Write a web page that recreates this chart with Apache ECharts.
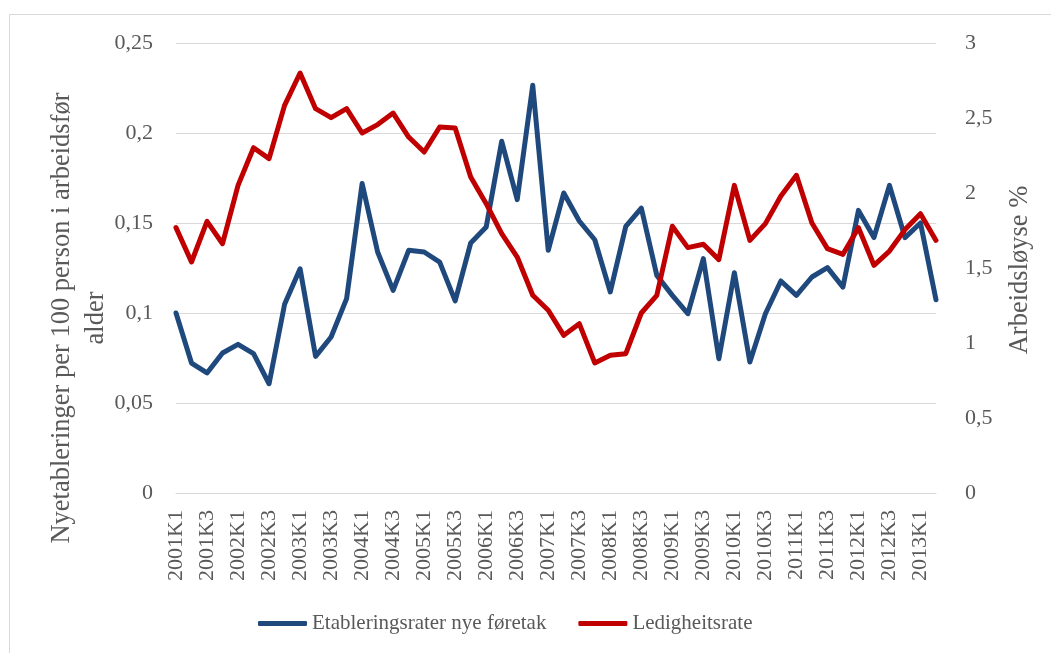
<!DOCTYPE html>
<html>
<head>
<meta charset="utf-8">
<script src="https://cdn.jsdelivr.net/npm/echarts@6/dist/echarts.min.js"></script>
<style>
	html, body { margin: 0; padding: 0; background: #fff; }
	#main { width: 1051px; height: 653px; }
</style>
</head>
<body>
<div id="main"></div>
<script type="text/javascript">
	// kvartal
	var categories = [
		'2001K1','2001K2','2001K3','2001K4','2002K1','2002K2','2002K3','2002K4',
		'2003K1','2003K2','2003K3','2003K4','2004K1','2004K2','2004K3','2004K4',
		'2005K1','2005K2','2005K3','2005K4','2006K1','2006K2','2006K3','2006K4',
		'2007K1','2007K2','2007K3','2007K4','2008K1','2008K2','2008K3','2008K4',
		'2009K1','2009K2','2009K3','2009K4','2010K1','2010K2','2010K3','2010K4',
		'2011K1','2011K2','2011K3','2011K4','2012K1','2012K2','2012K3','2012K4',
		'2013K1','2013K2'
	];
	// Etableringsrater nye føretak (venstre akse)
	var etablering = [
		0.100, 0.0722, 0.0667, 0.0778, 0.0826, 0.0774, 0.0607, 0.1048, 0.1246, 0.0759,
		0.0867, 0.108, 0.1719, 0.1339, 0.1126, 0.1348, 0.1339, 0.1283, 0.1067, 0.1389,
		0.1478, 0.1954, 0.163, 0.2265, 0.1348, 0.1667, 0.1511, 0.1407, 0.1117, 0.1481,
		0.1583, 0.1209, 0.1098, 0.0996, 0.1302, 0.0746, 0.1224, 0.0728, 0.0996, 0.1178,
		0.1098, 0.12, 0.1252, 0.1144, 0.157, 0.1419, 0.1709, 0.1419, 0.15, 0.1074
	];
	// Ledigheitsrate (høgre akse)
	var ledighet = [
		1.769, 1.54, 1.811, 1.662, 2.051, 2.302, 2.229, 2.584, 2.8, 2.562,
		2.502, 2.562, 2.4, 2.456, 2.533, 2.373, 2.273, 2.44, 2.433, 2.107,
		1.929, 1.729, 1.573, 1.318, 1.218, 1.051, 1.129, 0.867, 0.918, 0.929,
		1.2, 1.318, 1.778, 1.636, 1.658, 1.556, 2.051, 1.684, 1.796, 1.98,
		2.118, 1.8, 1.629, 1.591, 1.769, 1.518, 1.613, 1.756, 1.862, 1.684
	];
	var seriesNames = ['Etableringsrater nye føretak', 'Ledigheitsrate'];
	var leftTitle = 'Nyetableringer per 100 person i arbeidsfør\nalder';
	var rightTitle = 'Arbeidsløyse %';

	var font = "'Liberation Serif', 'Times New Roman', serif";
	var grey = '#595959';
	function komma(v) {
		return String(+v.toFixed(2)).replace('.', ',');
	}

	var myChart = echarts.init(document.getElementById('main'));
	myChart.setOption({
		animation: false,
		backgroundColor: '#fff',
		textStyle: { fontFamily: font, color: grey },
		grid: { left: 176, right: 115, top: 43, bottom: 160, containLabel: false },
		legend: {
			data: seriesNames,
			left: 253,
			top: 608,
			icon: 'roundRect',
			itemWidth: 49,
			itemHeight: 5,
			itemGap: 32,
			textStyle: { fontFamily: font, fontSize: 21, color: grey }
		},
		xAxis: {
			type: 'category',
			data: categories,
			boundaryGap: false,
			axisLine: { lineStyle: { color: '#d9d9d9', width: 1 } },
			axisTick: { show: false },
			axisLabel: {
				interval: 1,
				rotate: 90,
				margin: 17,
				fontFamily: font,
				fontSize: 22,
				color: grey
			}
		},
		yAxis: [{
			type: 'value',
			min: 0,
			max: 0.25,
			interval: 0.05,
			axisLine: { show: false },
			axisTick: { show: false },
			splitLine: { lineStyle: { color: '#d9d9d9', width: 1 } },
			axisLabel: { formatter: komma, margin: 23, fontFamily: font, fontSize: 22, color: grey }
		}, {
			type: 'value',
			min: 0,
			max: 3,
			interval: 0.5,
			axisLine: { show: false },
			axisTick: { show: false },
			splitLine: { show: false },
			axisLabel: { formatter: komma, margin: 29, fontFamily: font, fontSize: 22, color: grey }
		}],
		graphic: [{
			type: 'rect',
			silent: true,
			shape: { x: 9.5, y: 14.5, width: 1100, height: 700 },
			style: { fill: 'none', stroke: '#d9d9d9', lineWidth: 1 }
		}, {
			type: 'text',
			x: 79,
			y: 318,
			rotation: Math.PI / 2,
			style: {
				text: leftTitle,
				fontFamily: font,
				fontSize: 26.5,
				lineHeight: 34,
				fill: grey,
				align: 'center',
				verticalAlign: 'middle'
			}
		}, {
			type: 'text',
			x: 1020,
			y: 270,
			rotation: Math.PI / 2,
			style: {
				text: rightTitle,
				fontFamily: font,
				fontSize: 26.5,
				fill: grey,
				align: 'center',
				verticalAlign: 'middle'
			}
		}],
		series: [{
			name: seriesNames[0],
			type: 'line',
			yAxisIndex: 0,
			data: etablering,
			symbol: 'none',
			color: '#1f497d',
			lineStyle: { color: '#1f497d', width: 5, join: 'round', cap: 'round' }
		}, {
			name: seriesNames[1],
			type: 'line',
			yAxisIndex: 1,
			data: ledighet,
			symbol: 'none',
			color: '#c00000',
			lineStyle: { color: '#c00000', width: 5, join: 'round', cap: 'round' }
		}]
	});
</script>
</body>
</html>
